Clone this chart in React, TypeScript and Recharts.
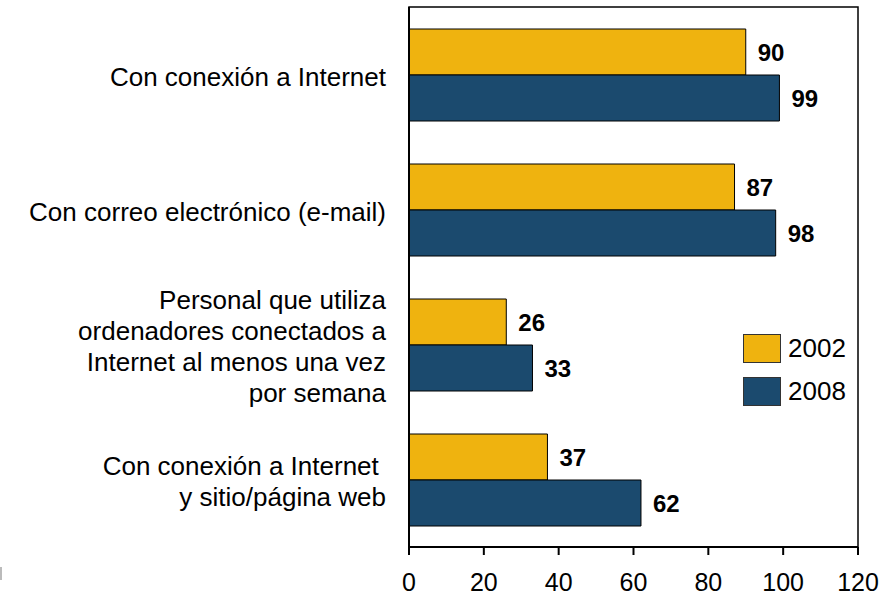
import { BarChart, Bar, XAxis, YAxis, LabelList, Legend, ReferenceArea } from "recharts";

// categorías (saltos de línea con \n)
const categories = [
  "Con conexión a Internet",
  "Con correo electrónico (e-mail)",
  "Personal que utiliza\nordenadores conectados a\nInternet al menos una vez\npor semana",
  "Con conexión a Internet \ny sitio/página web",
];
const values2002 = [90, 87, 26, 37];
const values2008 = [99, 98, 33, 62];
const xTicks = [0, 20, 40, 60, 80, 100, 120];
const seriesNames = ["2002", "2008"];

const YELLOW = "#EFB30F";
const BLUE = "#1B4A6E";
const FONT = "'Liberation Sans', Arial, sans-serif";

const data = categories.map((name, i) => ({
  name,
  y2002: values2002[i],
  y2008: values2008[i],
}));

function CategoryTick({ x, y, payload }: any) {
  const lines = String(payload.value).split("\n");
  const lh = 31;
  const start = -((lines.length - 1) / 2) * lh + 11;
  return (
    <text
      x={x}
      y={y}
      textAnchor="end"
      fill="#000"
      fontSize={26}
      fontFamily={FONT}
      style={{ whiteSpace: "pre" }}
    >
      {lines.map((l, i) => (
        <tspan key={i} x={x} dy={i === 0 ? start : lh}>
          {l}
        </tspan>
      ))}
    </text>
  );
}

function LegendBox() {
  const colors = [YELLOW, BLUE];
  return (
    <div style={{ fontFamily: FONT }}>
      {seriesNames.map((s, i) => (
        <div
          key={s}
          style={{ display: "flex", alignItems: "center", marginBottom: i === 0 ? 14 : 0 }}
        >
          <div
            style={{
              width: 36,
              height: 27,
              background: colors[i],
              border: "1px solid #333",
              marginRight: 7,
            }}
          />
          <span style={{ fontSize: 26, lineHeight: "29px", color: "#000" }}>{s}</span>
        </div>
      ))}
    </div>
  );
}

export default function App() {
  return (
    <div style={{ position: "absolute", left: 0, top: 0, width: 891, height: 595, background: "#fff" }}>
      <div style={{ position: "absolute", left: 0, top: 567, width: 2, height: 13, background: "#bbb" }} />
      <BarChart
        width={891}
        height={595}
        data={data}
        layout="vertical"
        margin={{ top: 7, right: 33, bottom: 18, left: 0 }}
        barSize={46}
        barGap={0}
      >
        <XAxis
          type="number"
          domain={[0, 120]}
          ticks={xTicks}
          interval={0}
          height={30}
          axisLine={{ stroke: "#000", strokeWidth: 2 }}
          tickLine={{ stroke: "#000", strokeWidth: 2 }}
          tickSize={8}
          tickMargin={18}
          tick={{ fill: "#000", fontSize: 25, fontFamily: FONT }}
        />
        <YAxis
          type="category"
          dataKey="name"
          width={409}
          axisLine={{ stroke: "#000", strokeWidth: 2 }}
          tickLine={false}
          tickSize={0}
          tickMargin={23}
          interval={0}
          tick={<CategoryTick />}
        />
        <ReferenceArea
          x1={0}
          x2={120}
          fill="none"
          fillOpacity={0}
          stroke="#000"
          strokeWidth={1.5}
          ifOverflow="visible"
        />
        <Legend
          layout="horizontal"
          verticalAlign="middle"
          align="center"
          content={<LegendBox />}
          wrapperStyle={{ left: 743, top: 334, width: "auto" }}
        />
        <Bar dataKey="y2002" name="2002" fill={YELLOW} stroke="#000" strokeWidth={1} isAnimationActive={false}>
          <LabelList
            dataKey="y2002"
            position="right"
            offset={12}
            fill="#000"
            fontSize={24}
            fontWeight="bold"
            fontFamily={FONT}
          />
        </Bar>
        <Bar dataKey="y2008" name="2008" fill={BLUE} stroke="#000" strokeWidth={1} isAnimationActive={false}>
          <LabelList
            dataKey="y2008"
            position="right"
            offset={12}
            fill="#000"
            fontSize={24}
            fontWeight="bold"
            fontFamily={FONT}
          />
        </Bar>
      </BarChart>
    </div>
  );
}
